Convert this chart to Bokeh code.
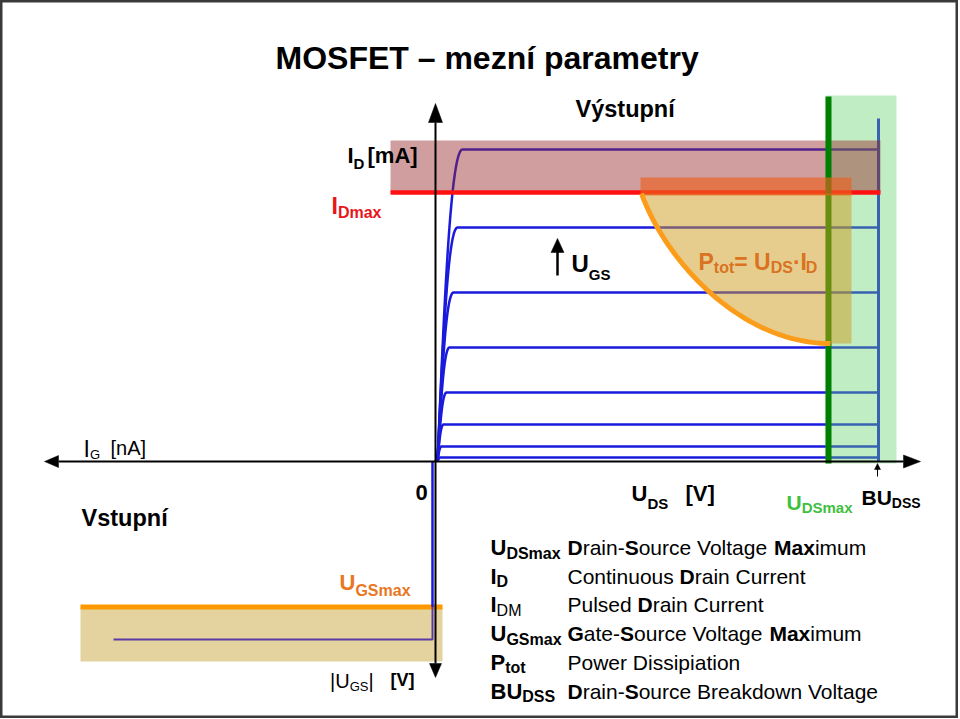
import numpy as np
from bokeh.plotting import figure
from bokeh.models import Range1d, ColumnDataSource
from bokeh.core.properties import value
from bokeh.embed import file_html
from bokeh.resources import INLINE

# ---------------- data (schematic units, origin at U_DS = 0, I_D = 0) ----------------
id_levels = [312, 234, 169, 114, 69, 37, 15, 4]      # saturation I_D of the curves (rising U_GS)
knee_uds = [27, 22, 18, 14, 11, 8, 6, 5]            # U_DS where each curve saturates
curve_start_uds = 2
bu_dss = 443                                        # breakdown voltage BU_DSS
bu_top_id = 343                                     # top of the breakdown line
uds_max = 393                                       # U_DSmax
uds_max_top = 365
id_max = 269                                        # I_Dmax
idm_band_id = [269, 321]                            # pulsed drain current zone
idm_band_uds = [-45, 445]
safe_zone_uds = [390, 461]                          # zone beyond U_DSmax
safe_zone_id = [-2, 366]
ptot_start = [206, 268]                             # P_tot hyperbola (schematic)
ptot_ctrl1 = [230, 201]
ptot_ctrl2 = [305, 118]
ptot_end = [395, 118]
ptot_box_uds = [205, 416]
ptot_box_id = [118, 268]
ptot_strip_id = [266, 284]
ugs_max = -145.5                                    # U_GSmax (input side, downward)
ugs_band = [-200, -145.5]
ugs_band_ig = [-355, 7]
ig_vert_x = -3
ig_bottom = -178
ig_left = -322

BLUE = "#1a1adc"
PURPLE = "#5b3aa6"
FONT = value("Liberation Sans")

p = figure(width=958, height=718, x_range=Range1d(-435, 523), y_range=Range1d(-257, 461),
           output_backend="svg", toolbar_location=None, min_border=0,
           x_axis_type=None, y_axis_type=None)
p.grid.visible = False
p.outline_line_color = "#3a3a3a"
p.outline_line_width = 4
p.background_fill_color = "white"


def bez(p0, c1, c2, p3, n=60):
    t = np.linspace(0, 1, n)
    a, b, c, d = (1 - t) ** 3, 3 * (1 - t) ** 2 * t, 3 * (1 - t) * t ** 2, t ** 3
    x = a * p0[0] + b * c1[0] + c * c2[0] + d * p3[0]
    y = a * p0[1] + b * c1[1] + c * c2[1] + d * p3[1]
    return x, y


# ---------------- output characteristics ----------------
xs, ys = [], []
for lev, k in zip(id_levels, knee_uds):
    w = k - curve_start_uds
    bx, by = bez((curve_start_uds, 0), (curve_start_uds + 0.25 * w, 0.45 * lev),
                 (curve_start_uds + 0.5 * w, lev), (k, lev))
    xs.append(list(bx) + [bu_dss])
    ys.append(list(by) + [lev])
p.multi_line(xs, ys, line_color=BLUE, line_width=2.5)
p.line([bu_dss, bu_dss], [0, bu_top_id], line_color=BLUE, line_width=3)

# zone beyond U_DSmax
p.quad(left=safe_zone_uds[0], right=safe_zone_uds[1], bottom=safe_zone_id[0], top=safe_zone_id[1],
       fill_color="#64d26e", fill_alpha=0.4, line_color=None)
# I_DM zone
p.quad(left=idm_band_uds[0], right=idm_band_uds[1], bottom=idm_band_id[0], top=idm_band_id[1],
       fill_color="#962828", fill_alpha=0.45, line_color=None)
# I_Dmax line
p.line(idm_band_uds, [id_max, id_max], line_color="#ff1111", line_width=4.5)
# U_DSmax line
p.line([uds_max, uds_max], [safe_zone_id[0], uds_max_top], line_color="#008000", line_width=6)

# P_tot zone
cx, cy = bez(ptot_start, ptot_ctrl1, ptot_ctrl2, ptot_end)
px = list(cx) + [ptot_box_uds[1], ptot_box_uds[1]]
py = list(cy) + [ptot_box_id[0], ptot_box_id[1]]
p.patch(px, py, fill_color="#cd9b1e", fill_alpha=0.5, line_color=None)
p.quad(left=ptot_box_uds[0], right=ptot_box_uds[1], bottom=ptot_strip_id[0], top=ptot_strip_id[1],
       fill_color="#eb5f1e", fill_alpha=0.65, line_color=None)
p.line(cx, cy, line_color="#fb9d1b", line_width=5)

# ---------------- input side ----------------
p.quad(left=ugs_band_ig[0], right=ugs_band_ig[1], bottom=ugs_band[0], top=ugs_band[1],
       fill_color="#cdaf50", fill_alpha=0.55, line_color=None)
p.line(ugs_band_ig, [ugs_max, ugs_max], line_color="#ff9900", line_width=5)
p.line([ig_vert_x, ig_vert_x], [0, ugs_max], line_color=BLUE, line_width=2.5)
p.line([ig_vert_x, ig_vert_x, ig_left], [ugs_max, ig_bottom, ig_bottom], line_color=PURPLE, line_width=2)

# ---------------- axes ----------------
p.line([-377, 468], [0, 0], line_color="black", line_width=2)
p.line([0, 0], [-202, 339], line_color="black", line_width=2)
p.patches([[0, -7, 7], [0, -6, 6], [-391, -377, -377], [485, 468, 468], [122, 115.5, 128.5], [442, 439, 445]],
          [[358, 339, 339], [-216, -202, -202], [0, 6, -6], [0, 6.5, -6.5], [223, 209, 209], [-2, -8, -8]],
          fill_color="black", line_color="black", line_width=0.5)
p.line([122, 122], [186, 210], line_color="black", line_width=2.5)
p.line([442, 442], [-15, -6], line_color="black", line_width=1)

# ---------------- texts ----------------
REG = {' ': 278, '-': 333, 'a': 556, 'c': 500, 'e': 556, 'g': 556, 'i': 222, 'l': 222, 'm': 833,
       'n': 556, 'o': 556, 'r': 333, 's': 500, 't': 278, 'u': 556, 'd': 556, 'k': 500, 'w': 722,
       'p': 556, 'h': 556, 'B': 667, 'C': 722, 'P': 667, 'V': 667, 'D': 722, 'S': 667, 'G': 778,
       'M': 833, 'U': 722, 'I': 278, '|': 260, '[': 278, ']': 278, 'A': 667}
BOLD = {' ': 278, 'D': 722, 'S': 667, 'M': 833, 'G': 778, 'U': 722, 'I': 278, 'B': 722, 'P': 667,
        'a': 556, 'x': 556, 'm': 889, 't': 333, 'o': 611, '=': 584, '\u00b7': 278, '[': 333,
        ']': 333, 'V': 667, 's': 556, 'n': 611, 'u': 611, 'p': 611, 'r': 389, 'e': 556}


def tw(s, bold, size):
    tab = BOLD if bold else REG
    return sum(tab.get(ch, 580) for ch in s) / 1000.0 * size


T = dict(x=[], y=[], text=[], size=[], style=[], color=[])


def run(x0, y0, parts):
    x = x0
    for txt, size, bold, dy, color in parts:
        T["x"].append(x)
        T["y"].append(y0 + dy)
        T["text"].append(txt)
        T["size"].append(f"{size}px")
        T["style"].append("bold" if bold else "normal")
        T["color"].append(color)
        x += tw(txt, bold, size)


K = "#000000"
RED = "#e8141c"
ORG = "#e9771f"
PT = "#d9731f"
GRN = "#3fbf3f"

run(-160, 404, [("MOSFET \u2013 mezní parametry", 32, True, 0, K)])
run(140, 353, [("Výstupní", 23.5, True, 0, K)])
run(-354, -56, [("Vstupní", 23.5, True, 0, K)])
run(-20, -31, [("0", 22, True, 0, K)])
run(-352, 13, [("I", 23, False, 0, K), ("G", 13, False, -6, K)])
run(-325, 14, [("[nA]", 20, False, 0, K)])
run(-88, 306, [("I", 22, True, 0, K), ("D", 15, True, -8, K)])
run(-68, 306, [("[mA]", 22, True, 0, K)])
run(-104, 256, [("I", 23, True, 0, RED), ("Dmax", 16, True, -7, RED)])
run(136, 198, [("U", 24, True, 0, K), ("GS", 15, True, -11, K)])
run(263, 200, [("P", 23, True, 0, PT), ("tot", 16, True, -6, PT), ("= U", 23, True, 0, PT),
               ("DS", 16, True, -6, PT), ("\u00b7I", 23, True, 0, PT), ("D", 16, True, -6, PT)])
run(196, -32, [("U", 22, True, 0, K), ("DS", 15, True, -10, K)])
run(250, -32, [("[V]", 22, True, 0, K)])
run(351, -41, [("U", 21, True, 0, GRN), ("DSmax", 15, True, -5, GRN)])
run(426, -36, [("BU", 21, True, 0, K), ("DSS", 14, True, -5, K)])
run(-96, -121, [("U", 22, True, 0, ORG), ("GSmax", 16, True, -8, ORG)])
run(-105.5, -219, [("|", 20, False, 0, K), ("U", 20, False, 0, K), ("GS", 13, False, -6, K),
                   ("|", 20, False, 0, K)])
run(-45, -218, [("[V]", 18, True, 0, K)])

# legend
legend_main = ["U", "I", "I", "U", "P", "BU"]
legend_sub = ["DSmax", "D", "DM", "GSmax", "tot", "DSS"]
legend_sub_bold = [True, True, False, True, True, True]
legend_desc = [
    [("D", 1), ("rain-", 0), ("S", 1), ("ource Voltage ", 0), ("Max", 1), ("imum", 0)],
    [("Continuous ", 0), ("D", 1), ("rain Current", 0)],
    [("Pulsed ", 0), ("D", 1), ("rain Current", 0)],
    [("G", 1), ("ate-", 0), ("S", 1), ("ource Voltage ", 0), ("Max", 1), ("imum", 0)],
    [("Power Dissipiation", 0)],
    [("D", 1), ("rain-", 0), ("S", 1), ("ource Breakdown Voltage", 0)],
]
legend_y = [-86, -114.7, -143.4, -172.1, -200.8, -229.5]
for m, s, sb, d, yy in zip(legend_main, legend_sub, legend_sub_bold, legend_desc, legend_y):
    run(55, yy, [(m, 22, True, 0, K), (s, 16, sb, -5.5, K)])
    run(132, yy, [(t, 21, bool(b), 0, K) for t, b in d])

src = ColumnDataSource(T)
p.text(x="x", y="y", text="text", text_font_size="size", text_font_style="style",
       text_color="color", text_font=FONT, text_baseline="alphabetic", text_align="left", source=src)

open("out.html", "w").write(file_html(p, INLINE))
